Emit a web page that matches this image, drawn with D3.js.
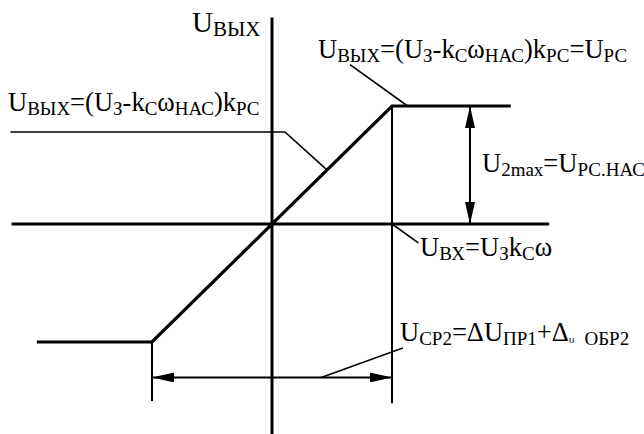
<!DOCTYPE html>
<html>
<head>
<meta charset="utf-8">
<script src="https://cdn.jsdelivr.net/npm/d3@7"></script>
<style>
  html, body { margin: 0; padding: 0; background: #fff; }
  svg { display: block; }
</style>
</head>
<body>
<svg id="chart" width="644" height="434"></svg>
<script>
// Static characteristic of the speed regulator: input (relative units) -> output.
const characteristic = [
  [-1.96, -1],
  [-1, -1],
  [1, 1],
  [1.99, 1]
];
// Axis extents in the same relative units
const xAxisExtent = [-2.17, 2.31];
const yAxisExtent = [-1.78, 1.75];
// Level of the horizontal dimension line and lower end of the extension lines
const widthDimLevel = -1.30;
const extensionEnds = [-1.50, -1.52];
// Horizontal position of the saturation dimension (U2max)
const heightDimPos = 1.65;

// Labels: each one a list of [text, kind] runs (kind: 0 normal, 1 subscript, 2 small)
const labelY     = [["U",0],["ВЫХ",1]];
const labelSat   = [["U",0],["ВЫХ",1],["=(U",0],["З",1],["-k",0],["С",1],["ω",0],["НАС",1],[")k",0],["РС",1],["=U",0],["РС",1]];
const labelLin   = [["U",0],["ВЫХ",1],["=(U",0],["З",1],["-k",0],["С",1],["ω",0],["НАС",1],[")k",0],["РС",1]];
const labelMax   = [["U",0],["2max",1],["=U",0],["РС.НАС",1]];
const labelIn    = [["U",0],["ВХ",1],["=U",0],["З",1],["k",0],["С",1],["ω",0]];
const labelWidth = [["U",0],["СР2",1],["=ΔU",0],["ПР1",1],["+Δ",0],["υ",2],["ОБР2",1]];

const svg = d3.select("#chart");

const x = d3.scaleLinear().domain([-1, 1]).range([152, 392]);
const y = d3.scaleLinear().domain([-1, 1]).range([342, 106]);

const line = d3.line().x(d => x(d[0])).y(d => y(d[1]));

// arrowheads
const defs = svg.append("defs");
defs.append("marker")
  .attr("id", "arrow")
  .attr("viewBox", "0 0 22 10")
  .attr("refX", 22).attr("refY", 5)
  .attr("markerWidth", 22).attr("markerHeight", 10)
  .attr("markerUnits", "userSpaceOnUse")
  .attr("orient", "auto-start-reverse")
  .append("path").attr("d", "M0,0 L22,5 L0,10 Z").attr("fill", "#000");

const g = svg.append("g").attr("fill", "none").attr("stroke", "#000");

// coordinate axes
g.append("path").attr("d", line([[xAxisExtent[0], 0], [xAxisExtent[1], 0]])).attr("stroke-width", 3);
g.append("path").attr("d", line([[0, yAxisExtent[0]], [0, yAxisExtent[1]]])).attr("stroke-width", 3);

// characteristic
g.append("path").attr("d", line(characteristic))
  .attr("stroke-width", 3.2).attr("stroke-linejoin", "miter");

// extension lines from the break points
g.append("path").attr("d", line([[-1, -1], [-1, extensionEnds[0]]])).attr("stroke-width", 2);
g.append("path").attr("d", line([[1, 1], [1, extensionEnds[1]]])).attr("stroke-width", 2);

// dimension lines
g.append("path").attr("d", line([[-1, widthDimLevel], [1, widthDimLevel]]))
  .attr("stroke-width", 2)
  .attr("marker-start", "url(#arrow)").attr("marker-end", "url(#arrow)");
g.append("path").attr("d", line([[heightDimPos, 1], [heightDimPos, 0]]))
  .attr("stroke-width", 2)
  .attr("marker-start", "url(#arrow)").attr("marker-end", "url(#arrow)");

// leader lines
const leaders = [
  [[0.65, 1.35], [1.13, 1.0]],
  [[-2.18, 0.78], [0.108, 0.78], [0.458, 0.458]],
  [[1, 0], [1.22, -0.16]],
  [[0.41, widthDimLevel], [1.09, -1.05]]
];
leaders.forEach(p => g.append("path").attr("d", line(p)).attr("stroke-width", 1.6));

// Formula labels: every run is its own <text>, placed after the measured
// width of the previous one; subscripts are smaller and set slightly lower.
function label(runs, px, py, size, subSize) {
  const grp = svg.append("g");
  let cx = px;
  runs.forEach(([s, kind], i) => {
    let fs = size, dy = 0, gap = 0;
    if (kind === 1) { fs = subSize; dy = 4; }
    if (kind === 2) { fs = subSize * 0.6; dy = 2; }
    if (kind === 1 && i > 0 && runs[i - 1][1] === 2) gap = 10;
    cx += gap;
    const t = grp.append("text")
      .attr("x", cx).attr("y", py + dy)
      .attr("font-family", "Liberation Serif")
      .attr("font-size", fs)
      .attr("fill", "#000")
      .text(s);
    cx += t.node().getComputedTextLength();
  });
  return grp;
}

label(labelY, 192, 32, 29, 21);
label(labelSat, 318, 58, 26.5, 19);
label(labelLin, 8, 111, 26.5, 19);
label(labelMax, 482, 172, 26.5, 19);
label(labelIn, 420, 256, 26.5, 19);
label(labelWidth, 400, 341, 26.5, 19);
</script>
</body>
</html>
